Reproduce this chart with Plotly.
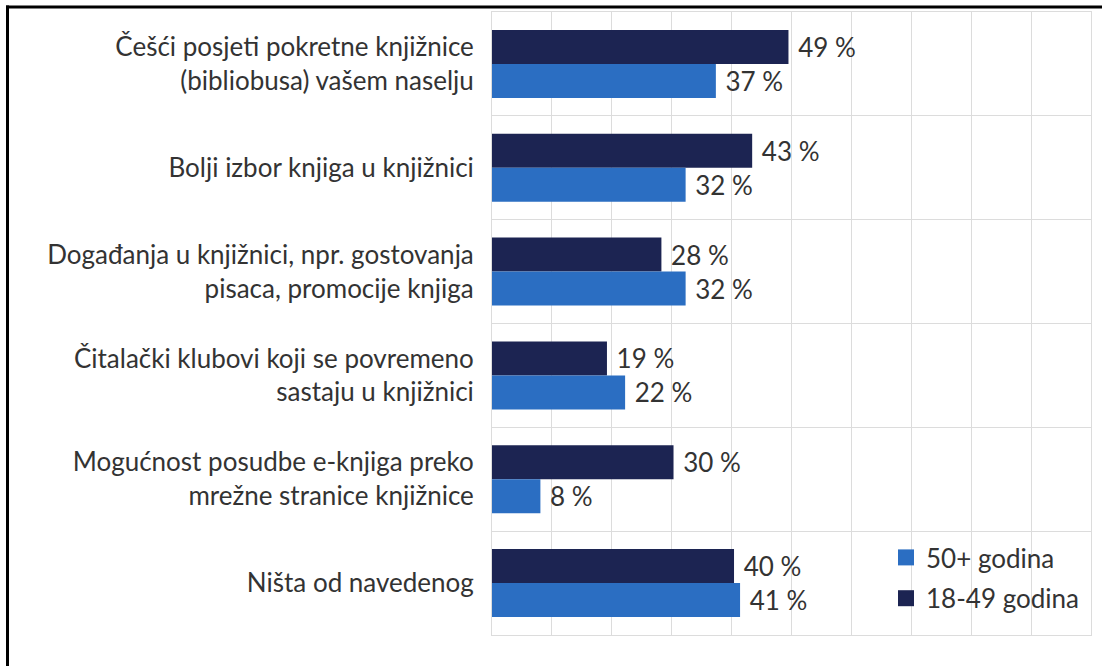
import plotly.graph_objects as go

categories = [
    "Češći posjeti pokretne knjižnice<br>(bibliobusa) vašem naselju",
    "Bolji izbor knjiga u knjižnici",
    "Događanja u knjižnici, npr. gostovanja<br>pisaca, promocije knjiga",
    "Čitalački klubovi koji se povremeno<br>sastaju u knjižnici",
    "Mogućnost posudbe e-knjiga preko<br>mrežne stranice knjižnice",
    "Ništa od navedenog",
]
young = [49, 43, 28, 19, 30, 40]   # 18-49 godina
older = [37, 32, 32, 22, 8, 41]    # 50+ godina
series_names = ["18-49 godina", "50+ godina"]

DARK = "#1c2452"
LIGHT = "#2b6ec2"
TXT = "#333333"
FONT = "Lato"
FS = 26

W, H = 1102, 666
L, R, T, B = 492, 11, 12, 31
pw, ph = W - L - R, H - T - B

def px_x(p):
    return (p - L) / pw

def px_y(p):
    return (H - B - p) / ph

fig = go.Figure()
fig.add_trace(go.Bar(
    y=categories, x=young, orientation="h", name=series_names[0],
    marker=dict(color=DARK, line=dict(width=0)),
    text=[f"\u00a0{v}\u00a0%" for v in young], textposition="outside",
    textfont=dict(family=FONT, size=FS, color=TXT), cliponaxis=False,
    showlegend=False,
))
fig.add_trace(go.Bar(
    y=categories, x=older, orientation="h", name=series_names[1],
    marker=dict(color=LIGHT, line=dict(width=0)),
    text=[f"\u00a0{v}\u00a0%" for v in older], textposition="outside",
    textfont=dict(family=FONT, size=FS, color=TXT), cliponaxis=False,
    showlegend=False,
))
# legend proxies
fig.add_trace(go.Scatter(x=[None], y=[None], mode="markers", name=series_names[1],
                         marker=dict(symbol="square", size=16, color=LIGHT),
                         legendgroup="a", legendrank=1))
fig.add_trace(go.Scatter(x=[None], y=[None], mode="markers", name=series_names[0],
                         marker=dict(symbol="square", size=16, color=DARK),
                         legendgroup="b", legendrank=2))

fig.update_layout(
    width=W, height=H,
    margin=dict(l=L, r=R, t=T, b=B, autoexpand=False),
    paper_bgcolor="white", plot_bgcolor="white",
    barmode="group", bargap=0.345, bargroupgap=0,
    font=dict(family=FONT, size=FS, color=TXT),
    xaxis=dict(range=[0, 99], dtick=9.9, tick0=0, showticklabels=False, ticks="",
               showgrid=True, gridcolor="#dcdcdc", gridwidth=1, zeroline=False,
               showline=True, mirror=True, linecolor="#dcdcdc", linewidth=1, fixedrange=True),
    yaxis=dict(type="category", autorange="reversed", tickson="boundaries", ticks="",
               showgrid=True, gridcolor="#dcdcdc", gridwidth=1,
               showline=True, mirror=True, linecolor="#dcdcdc", linewidth=1,
               tickfont=dict(family=FONT, size=FS, color=TXT), ticklabelstandoff=12),
    legend=dict(x=px_x(886), y=px_y(534), xanchor="left", yanchor="top",
                bgcolor="rgba(0,0,0,0)", font=dict(family=FONT, size=FS, color=TXT),
                traceorder="grouped", tracegroupgap=4, itemwidth=30),
    showlegend=True,
    shapes=[
        dict(type="line", xref="paper", yref="paper", x0=px_x(6), x1=px_x(W + 5),
             y0=px_y(7), y1=px_y(7), line=dict(color="black", width=3)),
        dict(type="line", xref="paper", yref="paper", x0=px_x(7.5), x1=px_x(7.5),
             y0=px_y(5.5), y1=px_y(H + 5), line=dict(color="black", width=3)),
    ],
)

fig.write_html("out.html", config={"displayModeBar": False},
               post_script="document.body.style.margin='0';document.body.style.padding='0';document.body.style.overflow='hidden';")
